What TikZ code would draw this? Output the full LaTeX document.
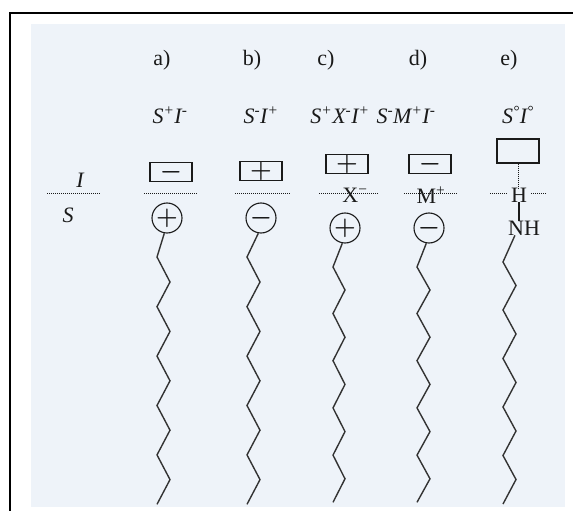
\documentclass[tikz,border=0pt]{standalone}
\usepackage{fontspec}
\setmainfont{Liberation Serif}
\definecolor{ink}{HTML}{1A1A1A}
\definecolor{chain}{HTML}{333333}
\definecolor{paper}{HTML}{EEF3F9}
\begin{document}
\begin{tikzpicture}[x=1pt,y=-1pt,
  txt/.style={inner sep=0pt, text=ink, font=\fontsize{22}{24}\selectfont},
  itxt/.style={inner sep=0pt, text=ink, font=\fontsize{22}{24}\selectfont\itshape},
  ion/.style={draw=ink, line width=1.1pt, minimum width=42pt, minimum height=19pt, inner sep=0pt},
  ball/.style={draw=ink, circle, line width=1.1pt, minimum size=30pt, inner sep=0pt},
  sign/.style={text=ink, font=\fontsize{27}{27}\selectfont\boldmath},
  dots/.style={draw=ink, line width=0.9pt, dash pattern=on 1pt off 1pt},
  zig/.style={draw=chain, line width=1.4pt, line join=miter},
  bond/.style={draw=ink, line width=1.1pt}]
\useasboundingbox (0,0) rectangle (573,511);
\fill[white] (0,0) rectangle (573,511);
\fill[paper] (31,24) rectangle (565,507);
\draw[black, line width=2pt] (10,512) -- (10,13) -- (574,13);

% column headings
\node[txt] (la) at (162,60) {a)};
\node[txt] (lb) at (252,60) {b)};
\node[txt] (lc) at (326,60) {c)};
\node[txt] (ld) at (418,60) {d)};
\node[txt] (le) at (509,60) {e)};

% formulas
\node[itxt] (fa) at (170,115) {S\textsuperscript{+}I\textsuperscript{-}};
\node[itxt] (fb) at (261,115) {S\textsuperscript{-}I\textsuperscript{+}};
\node[itxt] (fc) at (340,115) {S\textsuperscript{+}X\textsuperscript{-}I\textsuperscript{+}};
\node[itxt] (fd) at (406,115) {S\textsuperscript{-}M\textsuperscript{+}I\textsuperscript{-}};
\node[itxt] (fe) at (518,115) {S\textsuperscript{°}I\textsuperscript{°}};

% I / S legend
\node[itxt] (lI) at (80,180) {I};
\node[itxt] (lS) at (68,215) {S};
\draw[dots] (47,193) -- (100,193);

% a)
\node[ion, sign] (ba) at (171,172) {$-$};
\draw[dots] (144,193) -- (198,193);
\node[ball, sign] (ca) at (167,218) {$+$};
\draw[zig] (ca.-100) -- (157,257)
  \foreach \k in {0,...,4} { -- (170,{282+49.4*\k}) -- (157,{306.7+49.4*\k}) };

% b)
\node[ion, sign] (bb) at (261,171) {$+$};
\draw[dots] (235,193) -- (291,193);
\node[ball, sign] (cb) at (261,218) {$-$};
\draw[zig] (cb.-100) -- (247,257)
  \foreach \k in {0,...,4} { -- (260,{282+49.4*\k}) -- (247,{306.7+49.4*\k}) };

% c)
\node[ion, sign] (bc) at (347,164) {$+$};
\draw[dots] (319,193) -- (378,193);
\node[txt] (xc) at (355,195) {X\textsuperscript{−}};
\node[ball, sign] (cc) at (345,228) {$+$};
\draw[zig] (cc.-100) -- (333,267)
  \foreach \k in {0,...,4} { -- (345,{290+47.2*\k}) -- (333,{313.5+47.2*\k}) };

% d)
\node[ion, sign] (bd) at (430,164) {$-$};
\draw[dots] (404,193) -- (458,193);
\node[txt] (md) at (431,195) {M\textsuperscript{+}};
\node[ball, sign] (cd) at (429,228) {$-$};
\draw[zig] (cd.-100) -- (417,267)
  \foreach \k in {0,...,4} { -- (430,{290+47.2*\k}) -- (417,{313.5+47.2*\k}) };

% e)
\node[ion, minimum height=24pt] (be) at (518,151) {};
\node[txt] (he) at (519,195) {H};
\node[txt] (nh) at (524,228) {NH};
\draw[dots] (be.south) -- (be.south |- he.north);
\draw[dots] (490,193) -- (507,193);
\draw[dots] (531,193) -- (546,193);
\draw[bond] (he.south) -- (he.south |- nh.north);
\draw[zig] ([xshift=7pt]nh.south west) -- (503,262)
  \foreach \k in {0,...,4} { -- (516,{285.5+48.5*\k}) -- (503,{310+48.5*\k}) };
\end{tikzpicture}
\end{document}
